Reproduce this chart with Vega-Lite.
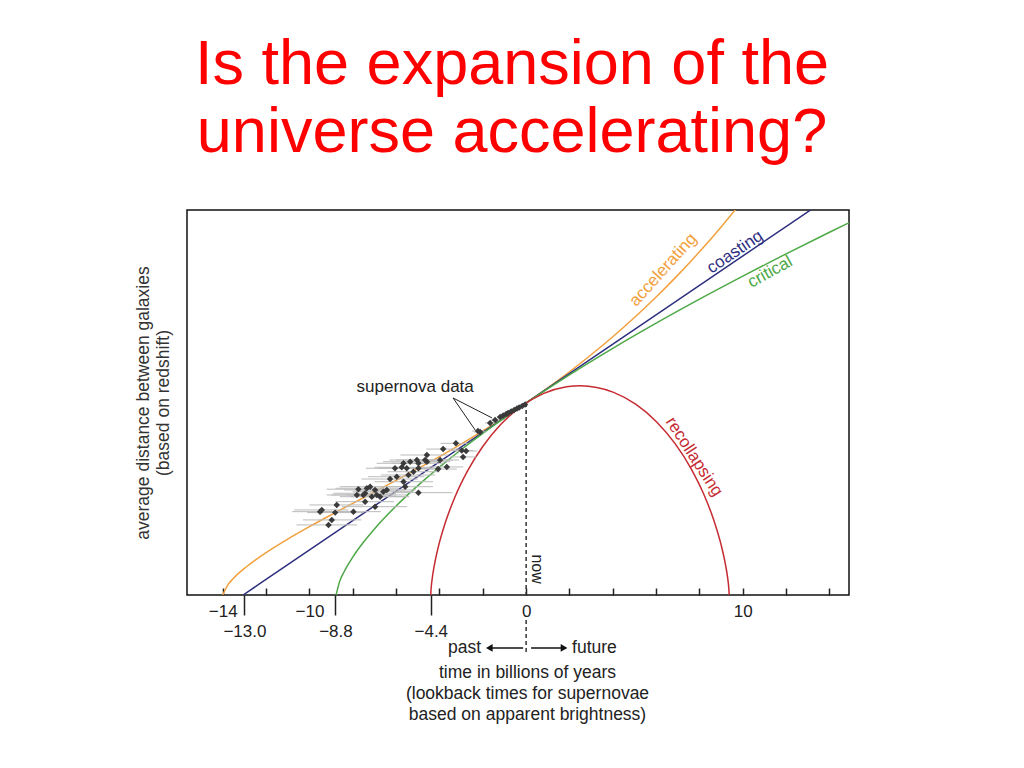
{
  "$schema": "https://vega.github.io/schema/vega-lite/v6.json",
  "width": 662,
  "height": 385,
  "autosize": "none",
  "padding": {"left": 187, "top": 210, "right": 175, "bottom": 173},
  "background": "white",
  "config": {
    "view": {"stroke": "#111", "strokeWidth": 1.5},
    "font": "Liberation Sans",
    "text": {"font": "Liberation Sans"}
  },
  "title": {
    "text": ["Is the expansion of the", "universe accelerating?"],
    "font": "Liberation Sans",
    "fontSize": 63,
    "fontWeight": "normal",
    "color": "#FF0000",
    "lineHeight": 68,
    "anchor": "middle",
    "dx": -6,
    "offset": 45
  },
  "datasets": {
    "curves": [
      {"curve": "accelerating", "t": -14, "a": 0},
      {"curve": "accelerating", "t": -13.75, "a": 0.055},
      {"curve": "accelerating", "t": -13.5, "a": 0.0873},
      {"curve": "accelerating", "t": -13, "a": 0.1388},
      {"curve": "accelerating", "t": -12.5, "a": 0.1821},
      {"curve": "accelerating", "t": -12, "a": 0.2211},
      {"curve": "accelerating", "t": -11, "a": 0.2914},
      {"curve": "accelerating", "t": -10, "a": 0.3559},
      {"curve": "accelerating", "t": -9, "a": 0.4173},
      {"curve": "accelerating", "t": -8, "a": 0.4773},
      {"curve": "accelerating", "t": -7, "a": 0.5368},
      {"curve": "accelerating", "t": -6, "a": 0.5969},
      {"curve": "accelerating", "t": -5, "a": 0.6581},
      {"curve": "accelerating", "t": -4, "a": 0.7211},
      {"curve": "accelerating", "t": -3, "a": 0.7862},
      {"curve": "accelerating", "t": -2, "a": 0.8542},
      {"curve": "accelerating", "t": -1, "a": 0.9253},
      {"curve": "accelerating", "t": 0, "a": 1.0},
      {"curve": "accelerating", "t": 1, "a": 1.0791},
      {"curve": "accelerating", "t": 2, "a": 1.1626},
      {"curve": "accelerating", "t": 3, "a": 1.2511},
      {"curve": "accelerating", "t": 4, "a": 1.3452},
      {"curve": "accelerating", "t": 5, "a": 1.4454},
      {"curve": "accelerating", "t": 6, "a": 1.552},
      {"curve": "accelerating", "t": 7, "a": 1.6658},
      {"curve": "accelerating", "t": 8, "a": 1.7872},
      {"curve": "accelerating", "t": 9, "a": 1.9168},
      {"curve": "accelerating", "t": 10, "a": 2.055},
      {"curve": "coasting", "t": -13.06, "a": 0},
      {"curve": "coasting", "t": 0, "a": 1.0},
      {"curve": "coasting", "t": 13.2, "a": 2.0107},
      {"curve": "critical", "t": -8.77, "a": 0},
      {"curve": "critical", "t": -8.6, "a": 0.0722},
      {"curve": "critical", "t": -8.4, "a": 0.1212},
      {"curve": "critical", "t": -8, "a": 0.1975},
      {"curve": "critical", "t": -7.5, "a": 0.2757},
      {"curve": "critical", "t": -7, "a": 0.344},
      {"curve": "critical", "t": -6, "a": 0.4637},
      {"curve": "critical", "t": -5, "a": 0.5696},
      {"curve": "critical", "t": -4, "a": 0.6663},
      {"curve": "critical", "t": -3, "a": 0.7565},
      {"curve": "critical", "t": -2, "a": 0.8415},
      {"curve": "critical", "t": -1, "a": 0.9224},
      {"curve": "critical", "t": 0, "a": 1.0},
      {"curve": "critical", "t": 2, "a": 1.1468},
      {"curve": "critical", "t": 4, "a": 1.2847},
      {"curve": "critical", "t": 6, "a": 1.4156},
      {"curve": "critical", "t": 8, "a": 1.5407},
      {"curve": "critical", "t": 10, "a": 1.6608},
      {"curve": "critical", "t": 12, "a": 1.7768},
      {"curve": "critical", "t": 14, "a": 1.8891},
      {"curve": "critical", "t": 15, "a": 1.944},
      {"curve": "recollapsing", "t": -4.4, "a": 0},
      {"curve": "recollapsing", "t": -4.397, "a": 0.0109},
      {"curve": "recollapsing", "t": -4.377, "a": 0.043},
      {"curve": "recollapsing", "t": -4.3225, "a": 0.0952},
      {"curve": "recollapsing", "t": -4.2189, "a": 0.1653},
      {"curve": "recollapsing", "t": -4.0526, "a": 0.2505},
      {"curve": "recollapsing", "t": -3.7403, "a": 0.3732},
      {"curve": "recollapsing", "t": -3.2987, "a": 0.5064},
      {"curve": "recollapsing", "t": -2.7213, "a": 0.6421},
      {"curve": "recollapsing", "t": -2.0097, "a": 0.7718},
      {"curve": "recollapsing", "t": -1.1743, "a": 0.8874},
      {"curve": "recollapsing", "t": -0.2328, "a": 0.9816},
      {"curve": "recollapsing", "t": 0.7903, "a": 1.0487},
      {"curve": "recollapsing", "t": 1.8653, "a": 1.0845},
      {"curve": "recollapsing", "t": 2.4848, "a": 1.09},
      {"curve": "recollapsing", "t": 4.0391, "a": 1.0554},
      {"curve": "recollapsing", "t": 5.0708, "a": 0.9922},
      {"curve": "recollapsing", "t": 6.0246, "a": 0.9012},
      {"curve": "recollapsing", "t": 6.8754, "a": 0.7881},
      {"curve": "recollapsing", "t": 7.6041, "a": 0.6599},
      {"curve": "recollapsing", "t": 8.1996, "a": 0.5245},
      {"curve": "recollapsing", "t": 8.659, "a": 0.3904},
      {"curve": "recollapsing", "t": 8.9878, "a": 0.2659},
      {"curve": "recollapsing", "t": 9.1995, "a": 0.1588},
      {"curve": "recollapsing", "t": 9.2984, "a": 0.0901},
      {"curve": "recollapsing", "t": 9.3492, "a": 0.0395},
      {"curve": "recollapsing", "t": 9.3676, "a": 0.0091},
      {"curve": "recollapsing", "t": 9.3697, "a": 0}
    ],
    "sn": [
      {"t": -1.2, "a": 0.927, "lo": -1.35, "hi": -1.05},
      {"t": -1.06, "a": 0.935, "lo": -1.18, "hi": -0.94},
      {"t": -0.92, "a": 0.943, "lo": -1.02, "hi": -0.82},
      {"t": -0.83, "a": 0.948, "lo": -0.93, "hi": -0.73},
      {"t": -0.69, "a": 0.956, "lo": -0.77, "hi": -0.61},
      {"t": -0.55, "a": 0.964, "lo": -0.62, "hi": -0.48},
      {"t": -0.42, "a": 0.971, "lo": -0.48, "hi": -0.36},
      {"t": -0.32, "a": 0.977, "lo": -0.37, "hi": -0.27},
      {"t": -0.18, "a": 0.984, "lo": -0.22, "hi": -0.14},
      {"t": -0.05, "a": 0.992, "lo": -0.08, "hi": -0.02},
      {"t": -1.66, "a": 0.896, "lo": -1.9, "hi": -1.42},
      {"t": -1.43, "a": 0.911, "lo": -1.62, "hi": -1.24},
      {"t": -2.22, "a": 0.854, "lo": -2.5, "hi": -1.94},
      {"t": -2.12, "a": 0.849, "lo": -2.4, "hi": -1.84},
      {"t": -3.24, "a": 0.79, "lo": -3.95, "hi": -2.7},
      {"t": -3.83, "a": 0.76, "lo": -4.6, "hi": -3.1},
      {"t": -2.97, "a": 0.752, "lo": -3.5, "hi": -2.45},
      {"t": -2.77, "a": 0.75, "lo": -3.3, "hi": -2.25},
      {"t": -2.91, "a": 0.719, "lo": -3.5, "hi": -2.3},
      {"t": -3.97, "a": 0.703, "lo": -4.9, "hi": -3.1},
      {"t": -3.66, "a": 0.667, "lo": -4.5, "hi": -2.9},
      {"t": -4.06, "a": 0.656, "lo": -5.0, "hi": -3.2},
      {"t": -4.58, "a": 0.729, "lo": -5.8, "hi": -3.6},
      {"t": -4.66, "a": 0.703, "lo": -6.0, "hi": -3.4},
      {"t": -5.04, "a": 0.703, "lo": -6.3, "hi": -3.8},
      {"t": -4.97, "a": 0.686, "lo": -6.2, "hi": -3.8},
      {"t": -5.35, "a": 0.694, "lo": -6.6, "hi": -4.1},
      {"t": -5.66, "a": 0.686, "lo": -6.9, "hi": -4.4},
      {"t": -5.74, "a": 0.665, "lo": -7.0, "hi": -4.5},
      {"t": -6.05, "a": 0.66, "lo": -7.4, "hi": -4.7},
      {"t": -5.51, "a": 0.66, "lo": -6.8, "hi": -4.3},
      {"t": -5.2, "a": 0.642, "lo": -6.4, "hi": -4.0},
      {"t": -4.58, "a": 0.694, "lo": -5.7, "hi": -3.5},
      {"t": -5.97, "a": 0.616, "lo": -7.3, "hi": -4.7},
      {"t": -6.28, "a": 0.604, "lo": -7.6, "hi": -5.0},
      {"t": -5.43, "a": 0.625, "lo": -6.7, "hi": -4.2},
      {"t": -4.97, "a": 0.66, "lo": -6.1, "hi": -3.9},
      {"t": -5.66, "a": 0.59, "lo": -7.0, "hi": -4.3},
      {"t": -5.58, "a": 0.564, "lo": -6.9, "hi": -4.3},
      {"t": -4.97, "a": 0.533, "lo": -6.1, "hi": -3.4},
      {"t": -7.74, "a": 0.551, "lo": -9.2, "hi": -6.3},
      {"t": -7.35, "a": 0.556, "lo": -8.8, "hi": -5.9},
      {"t": -7.2, "a": 0.564, "lo": -8.6, "hi": -5.8},
      {"t": -7.43, "a": 0.53, "lo": -8.9, "hi": -6.0},
      {"t": -6.97, "a": 0.547, "lo": -8.4, "hi": -5.6},
      {"t": -6.89, "a": 0.521, "lo": -8.3, "hi": -5.5},
      {"t": -6.59, "a": 0.538, "lo": -8.0, "hi": -5.2},
      {"t": -7.81, "a": 0.521, "lo": -9.2, "hi": -6.4},
      {"t": -7.51, "a": 0.521, "lo": -9.0, "hi": -6.0},
      {"t": -7.12, "a": 0.512, "lo": -8.6, "hi": -5.7},
      {"t": -6.43, "a": 0.547, "lo": -7.8, "hi": -5.1},
      {"t": -6.74, "a": 0.512, "lo": -8.1, "hi": -5.4},
      {"t": -7.43, "a": 0.486, "lo": -8.8, "hi": -6.1},
      {"t": -6.97, "a": 0.46, "lo": -8.5, "hi": -5.5},
      {"t": -9.43, "a": 0.443, "lo": -10.7, "hi": -8.2},
      {"t": -9.51, "a": 0.434, "lo": -10.8, "hi": -8.2},
      {"t": -8.74, "a": 0.469, "lo": -10.0, "hi": -7.5},
      {"t": -8.81, "a": 0.429, "lo": -10.1, "hi": -7.5},
      {"t": -7.97, "a": 0.434, "lo": -9.3, "hi": -6.7},
      {"t": -8.97, "a": 0.391, "lo": -10.3, "hi": -7.6},
      {"t": -9.12, "a": 0.365, "lo": -10.6, "hi": -7.8}
    ],
    "labels": [
      {"curve": "accelerating", "t": 6.32, "a": 1.693},
      {"curve": "coasting", "t": 9.64, "a": 1.786},
      {"curve": "critical", "t": 11.26, "a": 1.682},
      {"curve": "recollapsing", "t": 7.75, "a": 0.72}
    ]
  },
  "layer": [
    {
      "data": {"name": "curves"},
      "mark": {"type": "line", "strokeWidth": 1.5, "clip": true, "interpolate": "monotone"},
      "encoding": {
        "x": {
          "field": "t", "type": "quantitative",
          "scale": {"domain": [-15.65, 14.9], "nice": false, "zero": false},
          "axis": {
            "orient": "bottom",
            "values": [-14, -12, -10, -8, -6, -4, -2, 0, 2, 4, 6, 8, 10, 12, 14],
            "labelExpr": "indexof([-14, -10, 0, 10], datum.value) >= 0 ? datum.label : ''",
            "domain": false, "grid": false,
            "tickSize": -7, "tickWidth": 1.5, "tickColor": "#222",
            "labelPadding": 15, "labelFontSize": 17, "labelColor": "#222", "labelFont": "Liberation Sans",
            "title": ["time in billions of years", "(lookback times for supernovae", "based on apparent brightness)"],
            "titleFont": "Liberation Sans", "titleFontSize": 17.5, "titleFontWeight": "normal",
            "titleColor": "#222", "titleLineHeight": 21,
            "titleX": 340, "titleY": 68, "titleAlign": "center", "titleBaseline": "top"
          }
        },
        "y": {
          "field": "a", "type": "quantitative",
          "scale": {"domain": [0, 2.005], "nice": false, "zero": false},
          "axis": {
            "orient": "left",
            "domain": false, "ticks": false, "labels": false, "grid": false,
            "title": ["average distance between galaxies", "(based on redshift)"],
            "titleFont": "Liberation Sans", "titleFontSize": 17.5, "titleFontWeight": "normal",
            "titleColor": "#333", "titleLineHeight": 20, "titlePadding": 15
          }
        },
        "color": {
          "field": "curve", "type": "nominal",
          "scale": {"domain": ["accelerating", "coasting", "critical", "recollapsing"], "range": ["#F2A03D", "#2E2F7F", "#4DA846", "#C62B32"]},
          "legend": null
        }
      }
    },
    {
      "data": {"values": [{"t": 0, "a": 1, "a2": 0}, {"t": 0, "a": -0.13, "a2": -0.31}]},
      "mark": {"type": "rule", "strokeDash": [4, 3], "strokeWidth": 1.5, "color": "#333", "clip": false},
      "encoding": {
        "x": {
          "field": "t", "type": "quantitative",
          "scale": {"domain": [-15.65, 14.9], "nice": false, "zero": false},
          "axis": {
            "orient": "bottom",
            "values": [-13, -8.8, -4.4],
            "format": ".1f",
            "domain": false, "grid": false,
            "tickSize": 20, "tickWidth": 1.5, "tickColor": "#222",
            "labelPadding": 8, "labelFontSize": 17, "labelColor": "#222", "labelFont": "Liberation Sans",
            "title": null
          }
        },
        "y": {"field": "a", "type": "quantitative", "scale": {"domain": [0, 2.005], "nice": false, "zero": false}, "axis": null},
        "y2": {"field": "a2"}
      }
    },
    {
      "data": {"name": "sn"},
      "mark": {"type": "rule", "color": "#BBBBBB", "strokeWidth": 1, "clip": true},
      "encoding": {
        "x": {"field": "lo", "type": "quantitative", "scale": {"domain": [-15.65, 14.9], "nice": false, "zero": false}, "axis": null},
        "x2": {"field": "hi"},
        "y": {"field": "a", "type": "quantitative", "scale": {"domain": [0, 2.005], "nice": false, "zero": false}, "axis": null}
      }
    },
    {
      "data": {"name": "sn"},
      "mark": {"type": "point", "shape": "diamond", "filled": true, "color": "#3A3A3A", "size": 42, "opacity": 1},
      "encoding": {
        "x": {"field": "t", "type": "quantitative", "scale": {"domain": [-15.65, 14.9], "nice": false, "zero": false}, "axis": null},
        "y": {"field": "a", "type": "quantitative", "scale": {"domain": [0, 2.005], "nice": false, "zero": false}, "axis": null}
      }
    },
    {
      "data": {"values": [{"t": -3.37, "a": 1.026, "t2": -2.35, "a2": 0.859}, {"t": -3.37, "a": 1.026, "t2": -1.57, "a2": 0.922}]},
      "mark": {"type": "rule", "color": "#222", "strokeWidth": 1},
      "encoding": {
        "x": {"field": "t", "type": "quantitative", "scale": {"domain": [-15.65, 14.9], "nice": false, "zero": false}, "axis": null},
        "y": {"field": "a", "type": "quantitative", "scale": {"domain": [0, 2.005], "nice": false, "zero": false}, "axis": null},
        "x2": {"field": "t2"},
        "y2": {"field": "a2"}
      }
    },
    {
      "data": {"values": [{"label": "supernova data", "t": -5.12, "a": 1.085}]},
      "mark": {"type": "text", "fontSize": 17, "color": "#222", "font": "Liberation Sans"},
      "encoding": {
        "x": {"field": "t", "type": "quantitative", "scale": {"domain": [-15.65, 14.9], "nice": false, "zero": false}, "axis": null},
        "y": {"field": "a", "type": "quantitative", "scale": {"domain": [0, 2.005], "nice": false, "zero": false}, "axis": null},
        "text": {"field": "label"}
      }
    },
    {
      "data": {"name": "labels"},
      "transform": [{"filter": "datum.curve == 'accelerating'"}],
      "mark": {"type": "text", "fontSize": 17, "angle": -48, "font": "Liberation Sans"},
      "encoding": {
        "x": {"field": "t", "type": "quantitative", "scale": {"domain": [-15.65, 14.9], "nice": false, "zero": false}, "axis": null},
        "y": {"field": "a", "type": "quantitative", "scale": {"domain": [0, 2.005], "nice": false, "zero": false}, "axis": null},
        "text": {"field": "curve"},
        "color": {"field": "curve", "type": "nominal", "legend": null}
      }
    },
    {
      "data": {"name": "labels"},
      "transform": [{"filter": "datum.curve == 'coasting'"}],
      "mark": {"type": "text", "fontSize": 17, "angle": -34, "font": "Liberation Sans"},
      "encoding": {
        "x": {"field": "t", "type": "quantitative", "scale": {"domain": [-15.65, 14.9], "nice": false, "zero": false}, "axis": null},
        "y": {"field": "a", "type": "quantitative", "scale": {"domain": [0, 2.005], "nice": false, "zero": false}, "axis": null},
        "text": {"field": "curve"},
        "color": {"field": "curve", "type": "nominal", "legend": null}
      }
    },
    {
      "data": {"name": "labels"},
      "transform": [{"filter": "datum.curve == 'critical'"}],
      "mark": {"type": "text", "fontSize": 17, "angle": -29, "font": "Liberation Sans"},
      "encoding": {
        "x": {"field": "t", "type": "quantitative", "scale": {"domain": [-15.65, 14.9], "nice": false, "zero": false}, "axis": null},
        "y": {"field": "a", "type": "quantitative", "scale": {"domain": [0, 2.005], "nice": false, "zero": false}, "axis": null},
        "text": {"field": "curve"},
        "color": {"field": "curve", "type": "nominal", "legend": null}
      }
    },
    {
      "data": {"name": "labels"},
      "transform": [{"filter": "datum.curve == 'recollapsing'"}],
      "mark": {"type": "text", "fontSize": 17, "angle": 57, "font": "Liberation Sans"},
      "encoding": {
        "x": {"field": "t", "type": "quantitative", "scale": {"domain": [-15.65, 14.9], "nice": false, "zero": false}, "axis": null},
        "y": {"field": "a", "type": "quantitative", "scale": {"domain": [0, 2.005], "nice": false, "zero": false}, "axis": null},
        "text": {"field": "curve"},
        "color": {"field": "curve", "type": "nominal", "legend": null}
      }
    },
    {
      "data": {"values": [{"label": "now", "t": 0.5, "a": 0.135}]},
      "mark": {"type": "text", "fontSize": 16, "angle": 90, "color": "#222", "font": "Liberation Sans"},
      "encoding": {
        "x": {"field": "t", "type": "quantitative", "scale": {"domain": [-15.65, 14.9], "nice": false, "zero": false}, "axis": null},
        "y": {"field": "a", "type": "quantitative", "scale": {"domain": [0, 2.005], "nice": false, "zero": false}, "axis": null},
        "text": {"field": "label"}
      }
    },
    {
      "data": {"values": [{"t": -0.14, "t2": -1.7, "a": -0.276}, {"t": 0.23, "t2": 1.75, "a": -0.276}]},
      "mark": {"type": "rule", "color": "#111", "strokeWidth": 1.5, "clip": false},
      "encoding": {
        "x": {"field": "t", "type": "quantitative", "scale": {"domain": [-15.65, 14.9], "nice": false, "zero": false}, "axis": null},
        "x2": {"field": "t2"},
        "y": {"field": "a", "type": "quantitative", "scale": {"domain": [0, 2.005], "nice": false, "zero": false}, "axis": null}
      }
    },
    {
      "data": {"values": [{"dir": "left", "t": -1.7, "a": -0.276}, {"dir": "right", "t": 1.75, "a": -0.276}]},
      "mark": {"type": "point", "filled": true, "color": "#111", "size": 60, "opacity": 1, "clip": false},
      "encoding": {
        "x": {"field": "t", "type": "quantitative", "scale": {"domain": [-15.65, 14.9], "nice": false, "zero": false}, "axis": null},
        "y": {"field": "a", "type": "quantitative", "scale": {"domain": [0, 2.005], "nice": false, "zero": false}, "axis": null},
        "shape": {"field": "dir", "type": "nominal", "scale": {"domain": ["left", "right"], "range": ["triangle-left", "triangle-right"]}, "legend": null}
      }
    },
    {
      "data": {"values": [{"label": "past", "t": -2.08, "a": -0.276}]},
      "mark": {"type": "text", "fontSize": 17.5, "align": "right", "baseline": "middle", "color": "#222", "font": "Liberation Sans", "clip": false},
      "encoding": {
        "x": {"field": "t", "type": "quantitative", "scale": {"domain": [-15.65, 14.9], "nice": false, "zero": false}, "axis": null},
        "y": {"field": "a", "type": "quantitative", "scale": {"domain": [0, 2.005], "nice": false, "zero": false}, "axis": null},
        "text": {"field": "label"}
      }
    },
    {
      "data": {"values": [{"label": "future", "t": 2.12, "a": -0.276}]},
      "mark": {"type": "text", "fontSize": 17.5, "align": "left", "baseline": "middle", "color": "#222", "font": "Liberation Sans", "clip": false},
      "encoding": {
        "x": {"field": "t", "type": "quantitative", "scale": {"domain": [-15.65, 14.9], "nice": false, "zero": false}, "axis": null},
        "y": {"field": "a", "type": "quantitative", "scale": {"domain": [0, 2.005], "nice": false, "zero": false}, "axis": null},
        "text": {"field": "label"}
      }
    }
  ],
  "resolve": {"axis": {"x": "independent", "y": "independent"}}
}
